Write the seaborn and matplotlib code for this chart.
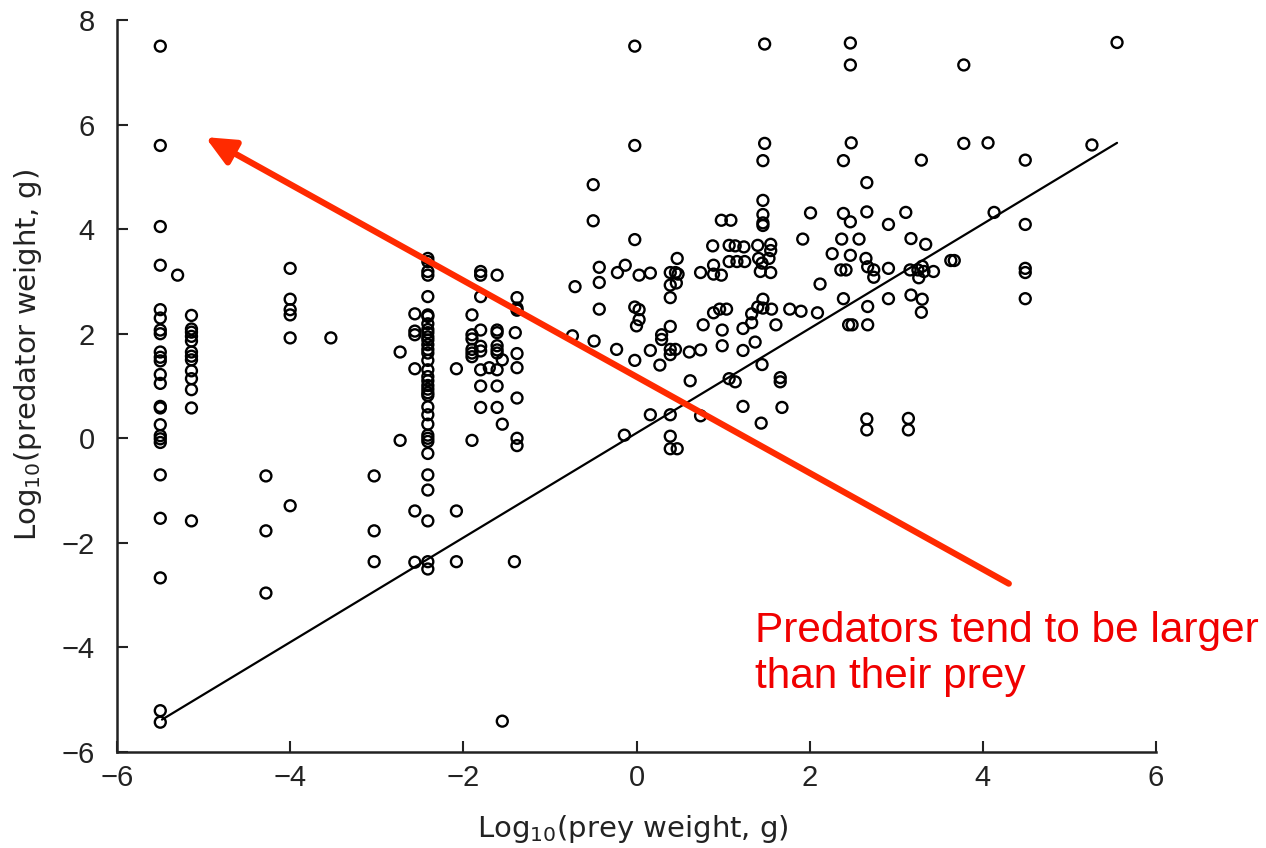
import matplotlib
matplotlib.use("Agg")
import matplotlib.pyplot as plt
import seaborn as sns
import numpy as np
import pandas as pd

# --- data (log10 grams) ---
# small prey (x < -3)
small_x = [-5.5] * 24 + [-5.3] + [-5.14] * 13 + [-4.0] * 6 + [-4.28] * 3 + [-3.53] + [-3.03] * 3
small_y = [7.5, 5.6, 4.05, 3.31, 2.46, 2.3, 2.07, 2.0, 1.65, 1.55, 1.48, 1.22,
           1.05, 0.61, 0.58, 0.26, 0.05, -0.01, -0.08, -0.7, -1.53, -2.67, -5.21, -5.43,
           3.12,
           2.35, 2.09, 2.03, 1.95, 1.86, 1.65, 1.57, 1.5, 1.29, 1.14, 0.93, 0.58, -1.58,
           3.25, 2.66, 2.46, 2.36, 1.92, -1.29,
           -0.72, -1.77, -2.96,
           1.92,
           -0.72, -1.77, -2.36]

# medium prey (-3 < x < -1)
mid_x = ([-2.73] * 2 + [-2.56] * 6 + [-2.41] * 35 + [-2.08] * 3 + [-1.9] * 7 +
         [-1.8] * 9 + [-1.7] + [-1.61] * 9 + [-1.55] * 3 + [-1.38] * 8 + [-1.41] + [-1.40])
mid_y = [1.65, -0.04,
         2.38, 1.98, 2.05, 1.33, -1.39, -2.37,
         3.44, 3.38, 3.19, 3.12, 2.71, 2.36, 2.33, 2.19, 2.08, 2.02, 1.94, 1.88,
         1.79, 1.70, 1.63, 1.49, 1.31, 1.18, 1.10, 1.01, 0.94, 0.87, 0.82, 0.60,
         0.45, 0.27, 0.06, 0.0, -0.06, -0.29, -0.70, -0.99, -1.58, -2.36, -2.5,
         1.33, -1.39, -2.36,
         2.36, 1.98, 1.90, 1.70, 1.63, 1.56, -0.04,
         3.19, 3.12, 2.71, 2.07, 1.76, 1.67, 1.31, 1.0, 0.59,
         1.35,
         3.12, 2.07, 2.02, 1.77, 1.69, 1.63, 1.31, 1.0, 0.59,
         1.5, 0.27, -5.41,
         2.69, 2.49, 2.45, 1.62, 1.35, 0.77, 0.0, -0.14,
         -2.36, 2.02]

# large prey (x > -1)
big_x = [-0.71, -0.74, -0.50, -0.50, -0.43, -0.43, -0.43, -0.49, -0.22, -0.13, -0.23, -0.14,
         -0.02, -0.02, -0.02, 0.03, -0.02, 0.03, 0.03, 0.0, -0.02,
         0.16, 0.16, 0.16, 0.29, 0.29, 0.27,
         0.39, 0.45, 0.48, 0.39, 0.46, 0.39, 0.39, 0.39, 0.39, 0.45, 0.39, 0.39, 0.39, 0.47, 0.47,
         0.61, 0.62, 0.74, 0.74, 0.77, 0.74, 0.88, 0.89, 0.89, 0.89,
         0.98, 0.98, 0.96, 0.99, 0.99, 1.04, 1.07, 1.07, 1.07, 1.09, 1.14, 1.16, 1.14,
         1.24, 1.25, 1.23, 1.23, 1.23, 1.33, 1.33, 1.37, 1.40, 1.41, 1.40,
         1.45, 1.43, 1.46, 1.46, 1.45, 1.44,
         1.48, 1.48, 1.46, 1.46, 1.46, 1.46, 1.46,
         1.55, 1.55, 1.53, 1.55, 1.56, 1.61, 1.66, 1.66, 1.68,
         1.77, 1.90, 1.92, 2.01, 2.09, 2.12, 2.26,
         2.36, 2.42, 2.37, 2.39, 2.39, 2.39,
         2.47, 2.47, 2.48, 2.47, 2.47, 2.45, 2.49, 2.57, 2.66, 2.66, 2.65, 2.67, 2.67, 2.67,
         2.74, 2.74, 2.66, 2.66,
         2.91, 2.91, 2.91, 3.11, 3.14, 3.14, 3.16, 3.17, 3.17, 3.25, 3.26, 3.29, 3.30, 3.30,
         3.29, 3.32, 3.34, 3.43, 3.63, 3.67, 3.78, 3.78, 4.06, 4.13,
         4.49, 4.49, 4.49, 4.49, 4.49, 5.26, 5.55]
big_y = [2.90, 1.96, 4.85, 4.16, 3.27, 2.98, 2.47, 1.86, 3.17, 3.31, 1.70, 0.06,
         7.5, 5.6, 3.80, 3.12, 2.51, 2.46, 2.27, 2.15, 1.49,
         3.16, 1.68, 0.45, 1.98, 1.89, 1.40,
         3.17, 3.17, 3.14, 2.93, 2.97, 2.69, 2.14, 1.70, 1.60, 1.70, 0.45, 0.04, -0.20, -0.20, 3.44,
         1.65, 1.10, 3.17, 1.69, 2.17, 0.43, 3.68, 3.31, 3.14, 2.40,
         4.17, 3.12, 2.47, 2.07, 1.77, 2.47, 3.69, 3.38, 1.14, 4.17, 3.68, 3.38, 1.08,
         3.66, 3.38, 2.10, 1.68, 0.61, 2.38, 2.21, 1.84, 3.69, 3.44, 2.51,
         3.35, 3.19, 2.66, 2.49, 1.41, 0.29,
         7.54, 5.64, 5.31, 4.55, 4.28, 4.12, 4.07,
         3.71, 3.59, 3.44, 3.17, 2.47, 2.17, 1.16, 1.08, 0.59,
         2.47, 2.43, 3.81, 4.31, 2.40, 2.95, 3.53,
         3.22, 3.22, 3.81, 4.30, 5.31, 2.67,
         7.56, 7.14, 5.65, 4.14, 3.50, 2.17, 2.17, 3.81, 4.89, 4.33, 3.44, 3.28, 2.52, 2.17,
         3.08, 3.22, 0.37, 0.16,
         4.09, 3.25, 2.67, 4.32, 0.38, 0.16, 3.22, 3.82, 2.74, 3.22, 3.07, 5.32, 3.29, 2.66,
         2.41, 3.19, 3.71, 3.19, 3.40, 3.40, 7.14, 5.64, 5.65, 4.32,
         5.32, 4.09, 3.25, 3.17, 2.67, 5.61, 7.57]

# fitted line (predator = prey + 0.1)
line_x = [-5.48, 5.55]
line_slope = 1.0
line_icpt = 0.1

# annotation arrow (tail -> head) in data units
arrow_tail = (4.30, -2.78)
arrow_head = (-4.98, 5.76)
note = "Predators tend to be larger\nthan their prey"

df = pd.DataFrame({"prey": small_x + mid_x + big_x,
                   "predator": small_y + mid_y + big_y})

sns.set_style("ticks")
plt.rcParams["font.family"] = ["Liberation Sans", "DejaVu Sans"]
plt.rcParams["mathtext.fontset"] = "custom"
plt.rcParams["mathtext.rm"] = "DejaVu Sans"

fig = plt.figure(figsize=(12.66, 8.48), dpi=100)
ax = fig.add_axes([117 / 1266, 1 - 752 / 848, 1039 / 1266, 732 / 848])

sns.scatterplot(data=df, x="prey", y="predator", ax=ax, marker="o",
                facecolor="none", edgecolor="black", s=62, linewidth=1.7,
                legend=False, zorder=3)

lx = np.array(line_x)
sns.lineplot(x=lx, y=line_slope * lx + line_icpt, ax=ax, color="black", lw=1.6)

ax.set_xlim(-6, 6)
ax.set_ylim(-6, 8)
ax.set_xticks(range(-6, 7, 2))
ax.set_yticks(range(-6, 9, 2))
ax.tick_params(direction="in", length=8, width=1.5, labelsize=21, colors="#222222")
ax.tick_params(axis="y", pad=16)
ax.tick_params(axis="x", pad=9)
sns.despine(ax=ax)
for s in ("left", "bottom"):
    ax.spines[s].set_linewidth(1.8)
    ax.spines[s].set_color("#222222")

lab_font = dict(fontsize=21, color="#222222", family="DejaVu Sans")
ax.set_xlabel(r"Log$_{10}$(prey weight, g)", **lab_font)
ax.set_ylabel(r"Log$_{10}$(predator weight, g)", **lab_font)
ax.xaxis.set_label_coords(0.497, -0.083)
ax.yaxis.set_label_coords(-0.07, 0.542)

ax.annotate("", xy=arrow_head, xytext=arrow_tail,
            arrowprops=dict(arrowstyle="-|>,head_length=0.55,head_width=0.25",
                            color="#ff2a00", lw=4.5, mutation_scale=32,
                            shrinkA=0, shrinkB=0), zorder=5)

fig.text(755 / 1266, 1 - 654 / 848, note, color="#f00000", fontsize=30.5,
         ha="left", va="center", linespacing=1.2)

fig.savefig("out.png", dpi=100)
